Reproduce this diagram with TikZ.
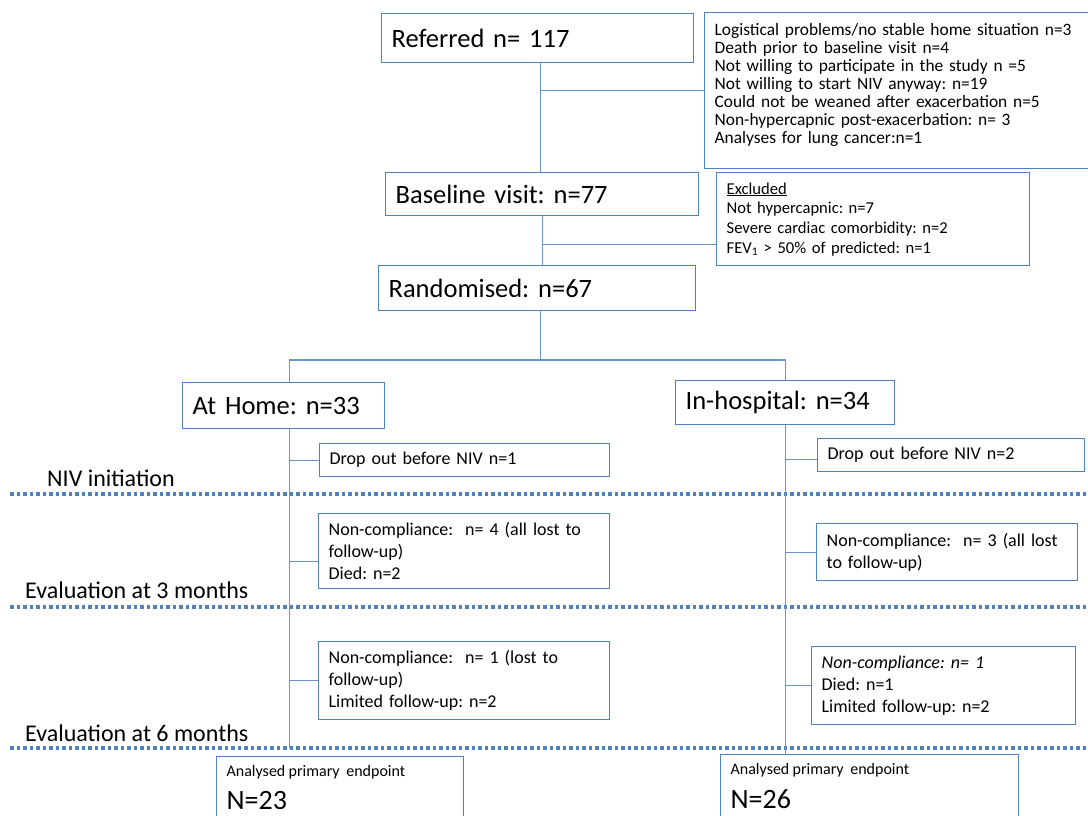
\documentclass[tikz,border=0pt]{standalone}
\usepackage{fontspec}
\setmainfont{Carlito}
\frenchspacing
\usetikzlibrary{positioning}
\definecolor{oblue}{RGB}{79,129,189}
\definecolor{lblue}{RGB}{108,148,204}
\tikzset{box/.style = {draw=oblue, line width=1.3pt, anchor=north west, align=left,
                       inner xsep=10pt, inner ysep=0pt},
         link/.style = {draw=lblue, line width=1.1pt},
         stage/.style = {draw=oblue, line width=3.5pt, dash pattern=on 3.5pt off 3pt},
         big/.style = {font=\fontsize{26.5}{30}\selectfont},
         mid/.style = {font=\fontsize{18}{22}\selectfont},
         small/.style = {font=\fontsize{17.4}{18}\selectfont},
         label/.style = {anchor=west, inner sep=0pt, font=\fontsize{24}{28}\selectfont}}

\begin{document}
\begin{tikzpicture}[x=1pt, y=-1pt]
    \useasboundingbox (0,0) rectangle (1088,816);

    \coordinate (cut1) at (10,494);
    \coordinate (cut3) at (10,607);
    \coordinate (cut6) at (10,748);
    \draw [stage] (cut1) -- (1088,494);
    \draw [stage] (cut3) -- (1088,607);
    \draw [stage] (cut6) -- (1088,748);

    \node [label] (niv) at (47,478) {NIV initiation};
    \node [label] (ev3) at (25,590) {Evaluation at 3 months};
    \node [label] (ev6) at (25,733) {Evaluation at 6 months};

    \node [box, big, text width=292, minimum height=49] (ref) at (381,13) {Referred n= 117};
    \node [box, small, text width=384, minimum height=156] (excl1) at (704,12)
        {Logistical problems/no stable home situation n=3\\
         Death prior to baseline visit n=4\\
         Not willing to participate in the study n =5\\
         Not willing to start NIV anyway: n=19\\
         Could not be weaned after exacerbation n=5\\
         Non-hypercapnic post-exacerbation: n= 3\\
         Analyses for lung cancer:n=1\rule[-14pt]{0pt}{0pt}};

    \node [box, big, text width=293, minimum height=43] (base) at (385,172) {Baseline visit: n=77};
    \node [box, text width=293, minimum height=93, font=\fontsize{16.6}{19.7}\selectfont] (excl2) at (716,172)
        {\underline{Excluded}\\
         Not hypercapnic: n=7\\
         Severe cardiac comorbidity: n=2\\
         FEV\textsubscript{1} > 50\% of predicted: n=1};

    \node [box, big, text width=297, minimum height=45] (rand) at (378,265) {Randomised: n=67};

    \node [box, big, text width=182, minimum height=46] (home) at (182,382) {At Home: n=33};
    \node [box, big, text width=199, minimum height=44] (hosp) at (675,380) {In-hospital: n=34};

    \node [box, mid, text width=270, minimum height=33] (drop1) at (319,443) {Drop out before NIV n=1};
    \node [box, mid, text width=247, minimum height=33] (drop2) at (817,438) {Drop out before NIV n=2};

    \node [box, mid, text width=271, minimum height=75] (nch3) at (318,513)
        {Non-compliance:\ \ n= 4 (all lost to\\ follow-up)\\ Died: n=2};
    \node [box, mid, text width=241, minimum height=57] (ncp3) at (816,523)
        {Non-compliance:\ \ n= 3 (all lost\\ to follow-up)};

    \node [box, mid, text width=271, minimum height=78] (nch6) at (318,641)
        {Non-compliance:\ \ n= 1 (lost to\\ follow-up)\\ Limited follow-up:\ n=2};
    \node [box, mid, text width=244, minimum height=78] (ncp6) at (811,646)
        {\textit{Non-compliance: n= 1}\\ Died: n=1\\ Limited follow-up:\ n=2};

    \node [box, text width=227, inner ysep=9pt] (ahome) at (216,756)
        {{\fontsize{16}{19}\selectfont Analysed primary\ \ endpoint}\\[11pt]
         {\fontsize{28}{30}\selectfont N=23}\rule[-40pt]{0pt}{0pt}};
    \node [box, text width=278, inner ysep=9pt] (ahosp) at (720,754)
        {{\fontsize{16}{19}\selectfont Analysed primary\ \ endpoint}\\[11pt]
         {\fontsize{28}{30}\selectfont N=26}\rule[-40pt]{0pt}{0pt}};

    \coordinate (reftrunk) at ([xshift=3pt]ref.south);
    \coordinate (randtrunk) at ([xshift=3pt]rand.south);
    \coordinate (hometrunk) at ([xshift=6pt]home.south);
    \coordinate (split) at (540,360);

    \draw [link] (reftrunk) -- (reftrunk |- base.north);
    \draw [link] (excl1.west) -- (excl1.west -| reftrunk);
    \draw [link] (base.south) -- (base.south |- rand.north);
    \draw [link] ([yshift=-25pt]excl2.west) -- ([yshift=-25pt]excl2.west -| base.south);

    \draw [link] (randtrunk) -- (randtrunk |- split);
    \draw [link] (hometrunk |- home.north) |- (split) -| (hosp.north);

    \draw [link] (hometrunk) -- (hometrunk |- cut6);
    \draw [link] (hosp.south) -- (hosp.south |- ahosp.north);

    \draw [link] (drop1.west) -- (drop1.west -| hometrunk);
    \draw [link] ([yshift=-10pt]nch3.west) -- ([yshift=-10pt]nch3.west -| hometrunk);
    \draw [link] (nch6.west) -- (nch6.west -| hometrunk);
    \draw [link] ([yshift=-4pt]drop2.west) -- ([yshift=-4pt]drop2.west -| hosp.south);
    \draw [link] (ncp3.west) -- (ncp3.west -| hosp.south);
    \draw [link] (ncp6.west) -- (ncp6.west -| hosp.south);
\end{tikzpicture}
\end{document}
